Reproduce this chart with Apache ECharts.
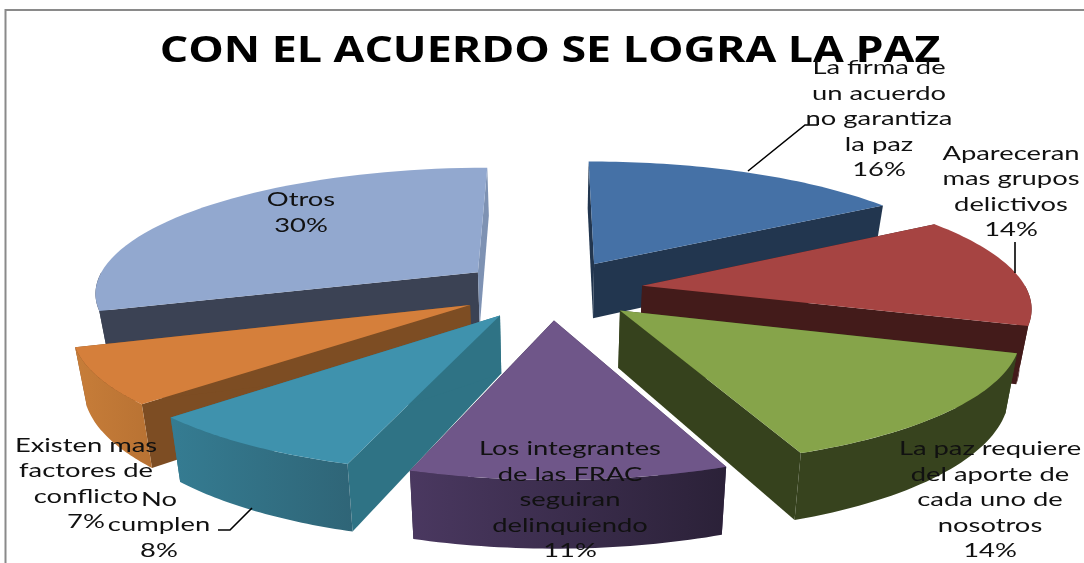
<!DOCTYPE html>
<html>
<head>
<meta charset="utf-8">
<style>html,body{margin:0;padding:0;background:#fff}#c{width:1084px;height:563px}</style>
<script src="https://cdn.jsdelivr.net/npm/echarts@6/dist/echarts.min.js"></script>
</head>
<body>
<div id="c"></div>
<script>
const chartTitle = 'CON EL ACUERDO SE LOGRA LA PAZ';
const categories = [
  'La firma de\nun acuerdo\nno garantiza\nla paz',
  'Apareceran\nmas grupos\ndelictivos',
  'La paz requiere\ndel aporte de\ncada uno de\nnosotros',
  'Los integrantes\nde las FRAC\nseguiran\ndelinquiendo',
  'No\ncumplen',
  'Existen mas\nfactores de\nconflicto',
  'Otros'
];
const values = [16, 14, 14, 11, 8, 7, 30];

const topColors = ['#4571A6', '#A64442', '#86A44A', '#6F5689', '#3F92AD', '#D57F3B', '#92A8CF'];
const startWall = ['#22364F', '#431B1A', '#36421D', '#47365A', '#2F7385', '#7D4D23', '#3B4254'];
const endWall   = ['#22364F', '#431B1A', '#36421D', '#2B2138', '#2F7385', '#7D4D23', '#7E92B3'];
const outerWall = [['#22364F','#22364F'], ['#431B1A','#431B1A'], ['#37431E','#37431E'],
                   ['#4A3860','#2B2138'], ['#357C92','#2F6577'], ['#C77D39','#B87233'], ['#3B4254','#3B4254']];
const labelCentres = [[879,119],[1011,192],[990,500],[570,500],[159,525],[86,484],[301,213]];
const leaders = [[[748,171],[805,125],[818,125]], [[1015,242],[1015,273]], null, null,
                 [[252,508],[230,530],[218,530]], null, null];

const CX = 551, CY = 289.5, A = 384.5, B = 125, K = 0.15, EXPLODE = 0.24, DEPTH = 56, SHRINK = 0.975;
const total = values.reduce((a, b) => a + b, 0);
const rad = Math.PI / 180;

function project(X, Y) {
  const s = 1 / (1 - K * Y);
  return { x: CX + A * X * s, y: CY + B * Y * s, s };
}
function upperPt(P) { return [P.x, P.y]; }
function lowerPt(P) { return [CX + (P.x - CX) * SHRINK, P.y + DEPTH * P.s]; }

function renderSlice(params, api) {
  const i = params.dataIndex;
  const before = values.slice(0, i).reduce((a, b) => a + b, 0);
  const a0 = before / total * 360 * rad;
  const a1 = (before + api.value(0)) / total * 360 * rad;
  const m = (a0 + a1) / 2;
  const ox = EXPLODE * Math.sin(m), oy = -EXPLODE * Math.cos(m);
  const apex = project(ox, oy);
  const at = t => project(ox + Math.sin(t), oy - Math.cos(t));
  const arc = (from, to, n) => {
    const pts = [];
    for (let k = 0; k <= n; k++) pts.push(at(from + (to - from) * k / n));
    return pts;
  };
  const rim = arc(a0, a1, 48);
  const base = Math.round(-Math.cos(m) * 100 + 200) * 10;
  const poly = (pts, fill, z) => ({
    type: 'polygon', z2: z,
    shape: { points: pts },
    style: { fill, stroke: null }
  });
  const first = rim[0], last = rim[rim.length - 1];
  const children = [
    poly([upperPt(apex), upperPt(first), lowerPt(first), lowerPt(apex)], startWall[i], base),
    poly([upperPt(apex), upperPt(last), lowerPt(last), lowerPt(apex)], endWall[i], base + 1)
  ];
  // only the part of the rim that faces the viewer gets an outer wall
  const f0 = Math.max(a0, 90 * rad), f1 = Math.min(a1, 270 * rad);
  if (f1 > f0) {
    const front = arc(f0, f1, 36);
    const grad = new echarts.graphic.LinearGradient(0, 0, 1, 0, [
      { offset: 0, color: outerWall[i][0] }, { offset: 1, color: outerWall[i][1] }
    ]);
    children.push(poly(front.map(upperPt).concat(front.slice().reverse().map(lowerPt)), grad, base + 2));
  }
  children.push(poly([upperPt(apex)].concat(rim.map(upperPt)), topColors[i], base + 5));
  if (leaders[i]) {
    children.push({
      type: 'polyline', z2: 9000,
      shape: { points: leaders[i] },
      style: { stroke: '#000', lineWidth: 1.6, fill: null }
    });
  }
  children.push({
    type: 'text', z2: 9500,
    x: labelCentres[i][0], y: labelCentres[i][1], scaleX: 1.44,
    style: {
      text: categories[i] + '\n' + api.value(0) + '%',
      font: '19px Lato', lineHeight: 25.4, fill: '#111',
      align: 'center', verticalAlign: 'middle'
    }
  });
  return { type: 'group', children };
}

const chart = echarts.init(document.getElementById('c'), null, { renderer: 'canvas' });
chart.setOption({
  animation: false,
  backgroundColor: '#fff',
  graphic: [
    { type: 'polyline', shape: { points: [[5.5, 563], [5.5, 10], [1084, 10]] },
      style: { stroke: '#8a8a8a', lineWidth: 2, fill: null } },
    { type: 'text', x: 550, y: 52, scaleX: 1.277,
      style: { text: chartTitle, font: 'bold 35px "Open Sans"', fill: '#000',
               align: 'center', verticalAlign: 'middle' } }
  ],
  series: [{
    type: 'custom',
    coordinateSystem: 'none',
    renderItem: renderSlice,
    data: values.map(v => [v]),
    silent: true
  }]
});
</script>
</body>
</html>
